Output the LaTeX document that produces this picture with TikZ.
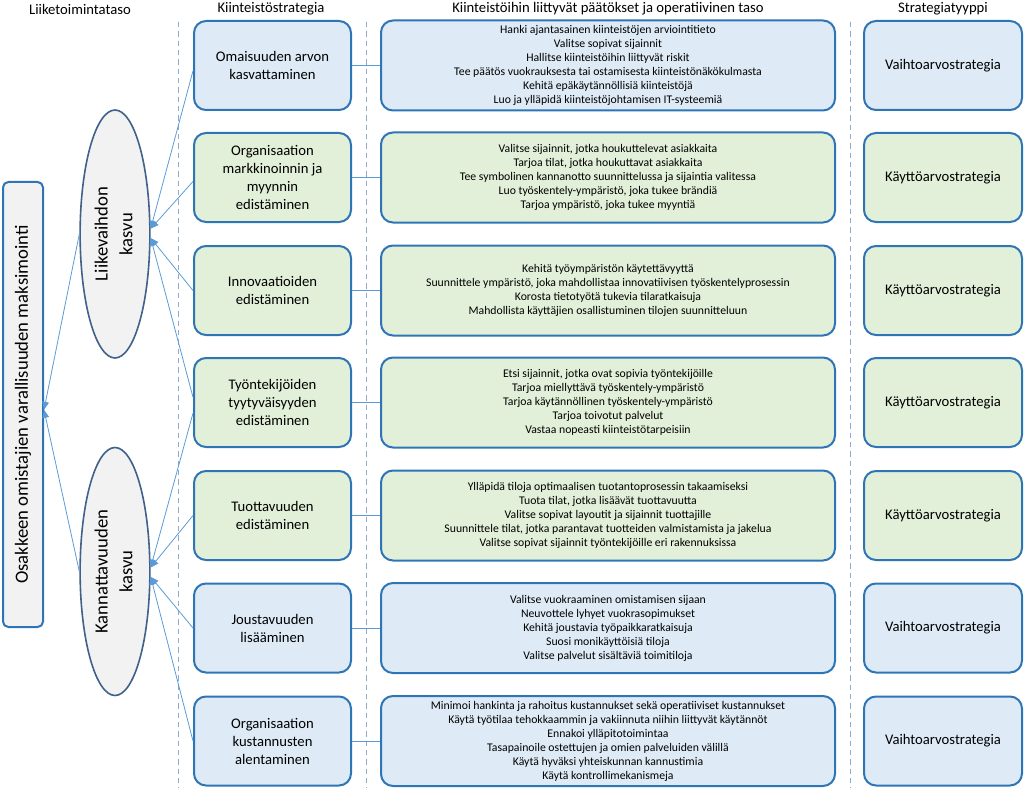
\documentclass[tikz,border=0pt]{standalone}
\usepackage{fontspec}
\setmainfont{Carlito}
\usetikzlibrary{shapes.geometric,arrows.meta}
\definecolor{bord}{HTML}{2E75B6}
\definecolor{bluefill}{HTML}{DEEBF7}
\definecolor{greenfill}{HTML}{E2F0D9}
\definecolor{grayfill}{HTML}{F2F2F2}
\definecolor{ellbord}{HTML}{41618A}
\definecolor{connc}{HTML}{5B9BD5}
\definecolor{dashc}{HTML}{8EA9C9}
\begin{document}
\begin{tikzpicture}[x=0.75pt,y=-0.75pt,
  boxbase/.style={draw=bord, line width=1.5pt, rounded corners=9pt, align=center, inner sep=2pt},
  sbox/.style={boxbase, minimum width=117.75pt, minimum height=66.75pt, font=\fontsize{11}{13.5}\selectfont},
  mbox/.style={boxbase, minimum width=340.5pt, minimum height=67.5pt, font=\fontsize{8.8}{10.5}\selectfont},
  tbox/.style={boxbase, minimum width=118.5pt, minimum height=66.75pt, font=\fontsize{11}{13.5}\selectfont},
  bluebox/.style={fill=bluefill},
  greenbox/.style={fill=greenfill},
  hdr/.style={font=\fontsize{11}{13}\selectfont, inner sep=0pt},
  ell/.style={ellipse, draw=ellbord, line width=1.2pt, fill=grayfill, minimum width=49.5pt, minimum height=186pt, inner sep=0pt, font=\fontsize{14}{18.5}\selectfont},
  bigbox/.style={draw=bord, line width=1.5pt, fill=grayfill, rounded corners=4pt, minimum width=30pt, minimum height=333.75pt, inner sep=0pt, font=\fontsize{14}{17}\selectfont},
  conn/.style={draw=connc, line width=0.6pt},
  arr/.style={conn, -{Triangle[length=6pt,width=5pt]}},
  sep/.style={draw=dashc, line width=0.6pt, dash pattern=on 4pt off 3pt}
]
\useasboundingbox (0,0) rectangle (1024,788);

% column separators
\draw[sep] (178,22) -- (178,788);
\draw[sep] (366.5,22) -- (366.5,788);
\draw[sep] (850,22) -- (850,788);

% headers
\node[hdr] (h1) at (80,9) {Liiketoimintataso};
\node[hdr] (h2) at (271,9) {Kiinteistöstrategia};
\node[hdr] (h3) at (608,9) {Kiinteistöihin liittyvät päätökset ja operatiivinen taso};
\node[hdr] (h4) at (943,9) {Strategiatyyppi};

% strategy boxes
\node[sbox,bluebox] (s1) at (272.5,65.5) {Omaisuuden arvon\\kasvattaminen};
\node[sbox,greenbox] (s2) at (272.5,177.5) {Organisaation\\markkinoinnin ja\\myynnin\\edistäminen};
\node[sbox,greenbox] (s3) at (272.5,290.5) {Innovaatioiden\\edistäminen};
\node[sbox,greenbox] (s4) at (272.5,402.5) {Työntekijöiden\\tyytyväisyyden\\edistäminen};
\node[sbox,greenbox] (s5) at (272.5,515.5) {Tuottavuuden\\edistäminen};
\node[sbox,bluebox] (s6) at (272.5,628) {Joustavuuden\\lisääminen};
\node[sbox,bluebox] (s7) at (272.5,741) {Organisaation\\kustannusten\\alentaminen};

% operative boxes
\node[mbox,bluebox] (m1) at (608,65.5) {Hanki ajantasainen kiinteistöjen arviointitieto\\Valitse sopivat sijainnit\\Hallitse kiinteistöihin liittyvät riskit\\Tee päätös vuokrauksesta tai ostamisesta kiinteistönäkökulmasta\\Kehitä epäkäytännöllisiä kiinteistöjä\\Luo ja ylläpidä kiinteistöjohtamisen IT-systeemiä};
\node[mbox,greenbox] (m2) at (608,177.5) {Valitse sijainnit, jotka houkuttelevat asiakkaita\\Tarjoa tilat, jotka houkuttavat asiakkaita\\Tee symbolinen kannanotto suunnittelussa ja sijaintia valitessa\\Luo työskentely-ympäristö, joka tukee brändiä\\Tarjoa ympäristö, joka tukee myyntiä};
\node[mbox,greenbox] (m3) at (608,290.5) {Kehitä työympäristön käytettävyyttä\\Suunnittele ympäristö, joka mahdollistaa innovatiivisen työskentelyprosessin\\Korosta tietotyötä tukevia tilaratkaisuja\\Mahdollista käyttäjien osallistuminen tilojen suunnitteluun};
\node[mbox,greenbox] (m4) at (608,402.5) {Etsi sijainnit, jotka ovat sopivia työntekijöille\\Tarjoa miellyttävä työskentely-ympäristö\\Tarjoa käytännöllinen työskentely-ympäristö\\Tarjoa toivotut palvelut\\Vastaa nopeasti kiinteistötarpeisiin};
\node[mbox,greenbox] (m5) at (608,515.5) {Ylläpidä tiloja optimaalisen tuotantoprosessin takaamiseksi\\Tuota tilat, jotka lisäävät tuottavuutta\\Valitse sopivat layoutit ja sijainnit tuottajille\\Suunnittele tilat, jotka parantavat tuotteiden valmistamista ja jakelua\\Valitse sopivat sijainnit työntekijöille eri rakennuksissa};
\node[mbox,bluebox] (m6) at (608,628) {Valitse vuokraaminen omistamisen sijaan\\Neuvottele lyhyet vuokrasopimukset\\Kehitä joustavia työpaikkaratkaisuja\\Suosi monikäyttöisiä tiloja\\Valitse palvelut sisältäviä toimitiloja};
\node[mbox,bluebox] (m7) at (608,741) {Minimoi hankinta ja rahoitus kustannukset sekä operatiiviset kustannukset\\Käytä työtilaa tehokkaammin ja vakiinnuta niihin liittyvät käytännöt\\Ennakoi ylläpitotoimintaa\\Tasapainoile ostettujen ja omien palveluiden välillä\\Käytä hyväksi yhteiskunnan kannustimia\\Käytä kontrollimekanismeja};

% strategy type boxes
\node[tbox,bluebox] (t1) at (943,65.5) {Vaihtoarvostrategia};
\node[tbox,greenbox] (t2) at (943,177.5) {Käyttöarvostrategia};
\node[tbox,greenbox] (t3) at (943,290.5) {Käyttöarvostrategia};
\node[tbox,greenbox] (t4) at (943,402.5) {Käyttöarvostrategia};
\node[tbox,greenbox] (t5) at (943,515.5) {Käyttöarvostrategia};
\node[tbox,bluebox] (t6) at (943,628) {Vaihtoarvostrategia};
\node[tbox,bluebox] (t7) at (943,741) {Vaihtoarvostrategia};

% business level
\node[ell] (e1) at (115,234) {\rotatebox{90}{\begin{tabular}{@{}c@{}}Liikevaihdon\\kasvu\end{tabular}}};
\node[ell] (e2) at (115,571.5) {\rotatebox{90}{\begin{tabular}{@{}c@{}}Kannattavuuden\\kasvu\end{tabular}}};
\node[bigbox] (big) at (23,404.5) {\rotatebox{90}{Osakkeen omistajien varallisuuden maksimointi}};

\coordinate (e1u) at ([yshift=4pt]e1.east);
\coordinate (e1d) at ([yshift=-3pt]e1.east);
\coordinate (e2u) at ([yshift=3pt]e2.east);
\coordinate (e2d) at ([yshift=-4pt]e2.east);
\coordinate (s4u) at ([yshift=4pt]s4.west);
\coordinate (s4d) at ([yshift=-8pt]s4.west);

% horizontal links
\foreach \i in {1,...,7} {\draw[conn] (s\i.east) -- (m\i.west);}

% arrows to ellipses
\draw[arr] ([yshift=-4pt]s1.west) -- (e1u);
\draw[arr] ([yshift=-3pt]s2.west) -- (e1u);
\draw[arr] (s3.west) -- (e1d);
\draw[arr] (s4u) -- (e1d);
\draw[arr] (s4d) -- (e2u);
\draw[arr] (s5.west) -- (e2u);
\draw[arr] (s6.west) -- (e2d);
\draw[arr] (s7.west) -- (e2d);

% arrows to top-level goal
\draw[arr] (e1.west) -- ([yshift=-4pt]big.east);
\draw[arr] (e2.west) -- ([yshift=-4pt]big.east);
\end{tikzpicture}
\end{document}
